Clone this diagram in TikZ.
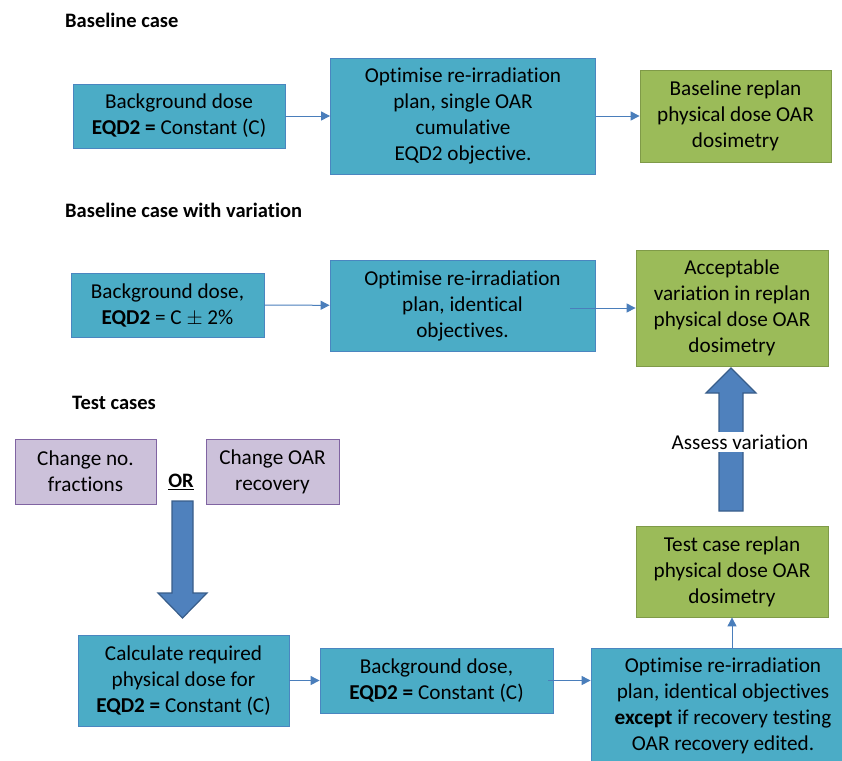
\documentclass[tikz,border=0pt]{standalone}
\usepackage{fontspec}
\setmainfont{Carlito}[Ligatures=NoCommon, RawFeature={-calt;-dlig}]
\usetikzlibrary{arrows.meta}

\definecolor{aqua}{HTML}{4BACC6}
\definecolor{aquaedge}{HTML}{4A86C0}
\definecolor{olive}{HTML}{9BBB59}
\definecolor{oliveedge}{HTML}{7F9A48}
\definecolor{lilac}{HTML}{CCC1DA}
\definecolor{lilacedge}{HTML}{8064A2}
\definecolor{arrowblue}{HTML}{4F81BD}
\definecolor{arrowedge}{HTML}{385D8A}
\definecolor{linkblue}{HTML}{4A7EBB}

\begin{document}
\begin{tikzpicture}
[
x=1pt, y=-1pt,
every node/.style={inner sep=0pt, align=center, font=\fontsize{21.2}{26}\selectfont},
box/.style={draw, line width=0.8pt, minimum width=#1},
bluebox/.style={box=#1, fill=aqua, draw=aquaedge},
greenbox/.style={box=#1, fill=olive, draw=oliveedge},
purplebox/.style={box=#1, fill=lilac, draw=lilacedge},
heading/.style={anchor=west, font=\fontsize{20.5}{24}\selectfont\bfseries},
link/.style={draw=linkblue, line width=1pt, -{Triangle[length=9pt,width=9pt]}},
blockarrow/.style={fill=arrowblue, draw=arrowedge, line width=1.2pt, line join=miter}
]
\useasboundingbox (0,0) rectangle (842,760);

% Baseline case
\node[heading] (head1) at (65,20) {Baseline case};
\node[bluebox=212, minimum height=64] (bg1) at (179,116)
  {Background dose\\\textbf{EQD2 =} Constant (C)};
\node[bluebox=265, minimum height=116] (opt1) at (463,116)
  {Optimise re-irradiation\\plan, single OAR\\cumulative\\EQD2 objective.};
\node[greenbox=191, minimum height=92] (base) at (735.5,116)
  {Baseline replan\\physical dose OAR\\dosimetry};
\draw[link] (bg1) -- (opt1);
\draw[link] (opt1) -- (base);

% Baseline case with variation
\node[heading] (head2) at (65,210) {Baseline case with variation};
\node[bluebox=193, minimum height=64] (bg2) at (167.5,305)
  {Background dose,\\\textbf{EQD2} = C $\pm$ 2\%};
\node[bluebox=265, minimum height=91] (opt2) at (462.5,305.5)
  {Optimise re-irradiation\\plan, identical\\objectives.};
\node[greenbox=192, minimum height=116] (accept) at (732,308)
  {Acceptable\\variation in replan\\physical dose OAR\\dosimetry};
\draw[link] (bg2) -- (opt2);
\draw[link] ([xshift=-25]opt2.east |- accept.west) -- (accept.west);

% Test cases
\node[heading] (head3) at (72,403) {Test cases};
\node[purplebox=141, minimum height=65] (frac) at (85.5,471.5)
  {Change no.\\fractions};
\node[purplebox=133, minimum height=65] (recov) at (272.5,471.5)
  {Change OAR\\recovery};
\node[font=\fontsize{20.5}{24}\selectfont\bfseries] (or) at (181,482) {\underline{OR}};
\node[bluebox=211, minimum height=91] (calc) at (183.5,680.5)
  {Calculate required\\physical dose for\\\textbf{EQD2 =} Constant (C)};
\node[bluebox=233, minimum height=65] (bg3) at (436.5,680.5)
  {Background dose,\\\textbf{EQD2 =} Constant (C)};
\node[bluebox=264, minimum height=115] (opt3) at (723,705.5)
  {Optimise re-irradiation\\plan, identical objectives\\\textbf{except} if recovery testing\\OAR recovery edited.};
\node[greenbox=192, minimum height=91] (test) at (732,571.5)
  {Test case replan\\physical dose OAR\\dosimetry};
\draw[link] (calc) -- (bg3);
\draw[link] ([xshift=-5]bg3.east) -- (opt3.west |- bg3.east);
\draw[link] (test.south |- opt3.north) -- (test.south);

% block arrows
\draw[blockarrow] (172,501) -- (193,501) -- (193,593) -- (207,593) -- (182.5,618)
  -- (158,593) -- (172,593) -- cycle;
\draw[blockarrow] (719,511) -- (743,511) -- (743,393) -- (756,393) -- (731,368)
  -- (706,393) -- (719,393) -- cycle;
\node[fill=white, inner sep=3pt] (assess) at (740,442) {Assess variation};
\end{tikzpicture}
\end{document}
